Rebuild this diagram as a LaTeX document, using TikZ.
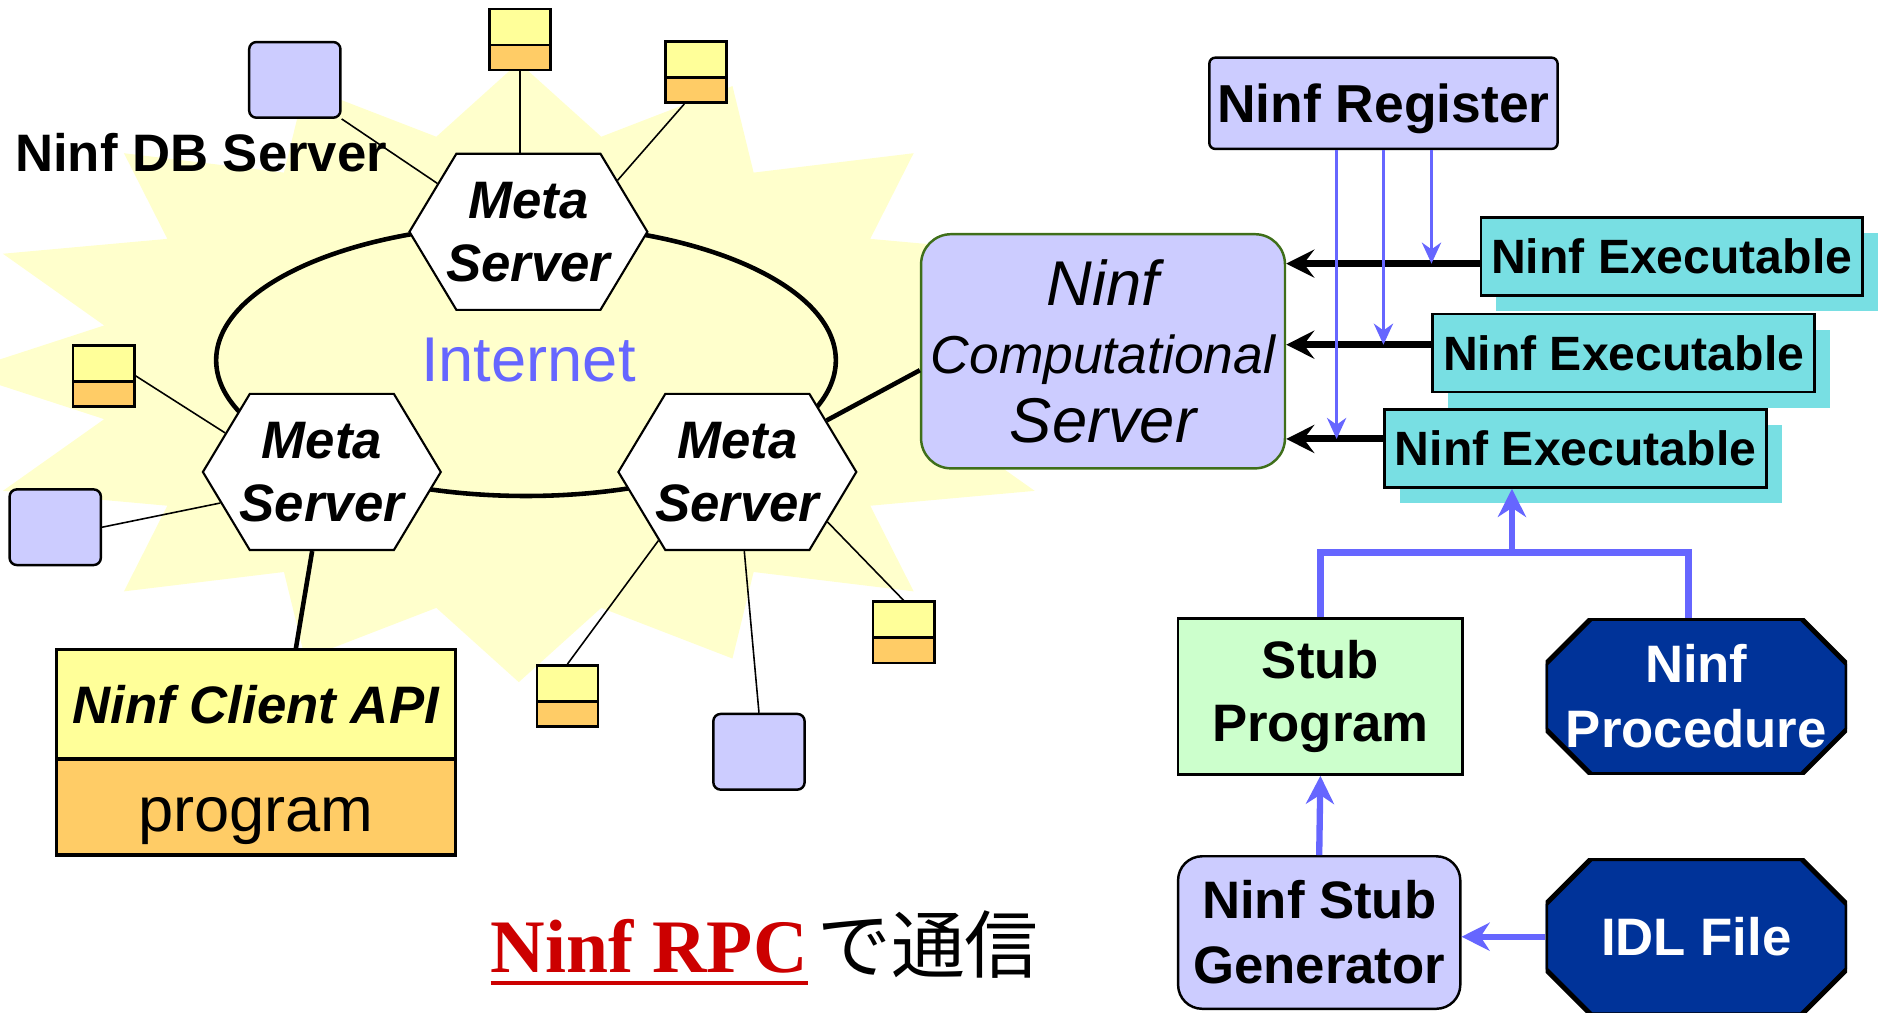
\documentclass[tikz,border=0pt]{standalone}
\usepackage{fontspec}
\setmainfont{Liberation Sans}
\newfontfamily\rpcfont{Liberation Serif}
\newfontfamily\jpfont{Noto Sans CJK JP}
\usetikzlibrary{arrows.meta,calc,shadows,shapes.symbols}

\newlength\dpx
\setlength\dpx{0.12009mm}
\newcommand\fsz[2]{\fontsize{#1}{#2}\selectfont}
\newcommand\metatext{\makebox[120\dpx]{Meta}\\\makebox[120\dpx]{Server}}

\definecolor{sunfill}{HTML}{FFFFCC}
\definecolor{dbblue}{HTML}{CCCCFF}
\definecolor{apiyellow}{HTML}{FFFF99}
\definecolor{prgorange}{HTML}{FFCC66}
\definecolor{execcyan}{HTML}{78DFE3}
\definecolor{stubgreen}{HTML}{CCFFCC}
\definecolor{procnavy}{HTML}{003399}
\definecolor{linkblue}{HTML}{6666FF}
\definecolor{compedge}{HTML}{3F6F1A}
\definecolor{rpcred}{HTML}{CC0000}

\tikzset{
    metahex/.style={signal,signal to=east and west,signal pointer angle=118,
        draw,fill=white,line width=0.6pt,inner sep=0pt,
        minimum height=130\dpx,align=center,font=\fsz{15}{18}\bfseries\itshape},
    dbbox/.style={draw,line width=0.7pt,fill=dbblue,rounded corners=6\dpx,
        minimum width=76\dpx,minimum height=63\dpx},
    stackbox/.style={draw,line width=0.7pt,fill=prgorange,inner sep=0pt,
        minimum width=51\dpx,minimum height=51\dpx,
        path picture={\fill[apiyellow] (path picture bounding box.north west)
            rectangle ([yshift=-30\dpx]path picture bounding box.north east);
            \draw[line width=0.7pt] ([yshift=-30\dpx]path picture bounding box.north west)
            -- ([yshift=-30\dpx]path picture bounding box.north east);}},
    wire/.style={line width=0.45pt},
    fatwire/.style={line width=1.3pt},
    netring/.style={line width=1.3pt},
    apibox/.style={draw,line width=0.9pt,fill=apiyellow,outer sep=0pt,
        minimum width=332\dpx,minimum height=91\dpx,
        font=\fsz{15}{18}\bfseries\itshape},
    prgbox/.style={draw,line width=0.9pt,fill=prgorange,outer sep=0pt,
        minimum width=332\dpx,minimum height=80\dpx,font=\fsz{18}{20},
        text height=13.7pt,text depth=0pt},
    compbox/.style={draw=compedge,line width=0.7pt,fill=dbblue,
        rounded corners=25\dpx,minimum width=303\dpx,minimum height=195\dpx,
        align=center,inner sep=0pt,font=\fsz{18}{19.5}\itshape},
    regbox/.style={draw,line width=0.7pt,fill=dbblue,rounded corners=5\dpx,
        inner xsep=2pt,minimum width=290\dpx,minimum height=76\dpx,
        text height=10.9pt,text depth=0pt,font=\fsz{15.2}{18}\bfseries},
    execbox/.style={draw,line width=0.7pt,fill=execcyan,inner xsep=1pt,
        minimum width=318\dpx,minimum height=65\dpx,font=\fsz{13.7}{16}\bfseries,
        general shadow={fill=execcyan,shadow xshift=13\dpx,shadow yshift=-13\dpx}},
    feed/.style={line width=2pt,-{Stealth[length=8pt,width=8pt,inset=3pt]}},
    regline/.style={draw=linkblue,line width=0.7pt,-{Stealth[length=6pt,width=5.5pt]}},
    fatblue/.style={draw=linkblue,line width=1.8pt},
    fattip/.style={-{Stealth[length=8pt,width=8pt]}},
    stubbox/.style={draw,line width=0.7pt,fill=stubgreen,
        minimum width=237\dpx,minimum height=130\dpx,
        align=center,font=\fsz{15}{18}\bfseries},
    octbox/.style={inner sep=0pt,text=white,minimum width=251\dpx,
        minimum height=130\dpx,align=center,font=\fsz{15}{18.5}\bfseries,
        path picture={\filldraw[fill=procnavy,draw=black,line width=1.4pt]
            ([xshift=38\dpx]path picture bounding box.north west)
            -- ([xshift=-38\dpx]path picture bounding box.north east)
            -- ([yshift=-38\dpx]path picture bounding box.north east)
            -- ([yshift=38\dpx]path picture bounding box.south east)
            -- ([xshift=-38\dpx]path picture bounding box.south east)
            -- ([xshift=38\dpx]path picture bounding box.south west)
            -- ([yshift=38\dpx]path picture bounding box.south west)
            -- ([yshift=-38\dpx]path picture bounding box.north west) -- cycle;}},
    genbox/.style={draw,line width=0.7pt,fill=dbblue,rounded corners=20\dpx,
        minimum width=235\dpx,minimum height=127\dpx,
        align=center,font=\fsz{15}{18.5}\bfseries}
}

\begin{document}
\begin{tikzpicture}[x=0.12009mm,y=-0.12009mm]
    \useasboundingbox (0,0) rectangle (1568,843);
    %% Internet cloud
    \begin{scope}
        \clip (0,0) rectangle (1568,843);
        \fill[sunfill] (897,310) \foreach \a in {0,22.5,...,337.5}
            { -- ({432+465*cos(\a)},{310+258*sin(\a)})
              -- ({432+352*cos(\a+11.25)},{310+200*sin(\a+11.25)}) } -- cycle;
    \end{scope}
    \draw[netring] (438,300) ellipse [x radius=258,y radius=113];
    \node[font=\fsz{18}{20},text=linkblue] (inet) at (440,300) {Internet};
    %% Meta servers
    \node[metahex] (ms1) at (440,193) {\metatext};
    \node[metahex] (ms2) at (268,393) {\metatext};
    \node[metahex] (ms3) at (614,393) {\metatext};
    %% DB servers and small hosts
    \node[dbbox] (db1) at (245.5,66.5) {};
    \node[dbbox] (db2) at (46,439) {};
    \node[dbbox] (db3) at (632,626) {};
    \node[stackbox] (sb1) at (433,33) {};
    \node[stackbox] (sb2) at (579.5,60) {};
    \node[stackbox] (sb3) at (86.5,313) {};
    \node[stackbox] (sb4) at (752.5,526.5) {};
    \node[stackbox] (sb5) at (472.5,579.5) {};
    \node[font=\fsz{15}{18}\bfseries,anchor=west,inner sep=0pt] (dblabel)
        at (12,127) {Ninf DB Server};
    \draw[wire] (db1.south east) -- (ms1.152);
    \draw[wire] (sb1.south) -- (sb1.south |- ms1.north);
    \draw[wire] (sb2.250) -- (ms1.30);
    \draw[wire] (sb3.east) -- (ms2.158);
    \draw[wire] (db2.east) -- (ms2.197);
    \draw[wire] (ms3.221) -- (sb5.north);
    \draw[wire] (ms3.275) -- (db3.north);
    \draw[wire] (ms3.331) -- (sb4.north);
    %% Client
    \node[apibox] (api) at (213,586.5) {Ninf Client API};
    \node[prgbox,anchor=north] (prg) at (api.south) {program};
    \draw[fatwire] (ms2.263) -- ($(api.north west)!0.6!(api.north east)$);
    %% Computational server
    \node[compbox] (comp) at (918.5,292.5)
        {Ninf\\{\fsz{15.2}{19.5}Computational}\\Server};
    \draw[fatwire] (ms3.30) -- ($(comp.south west)!0.42!(comp.north west)$);
    \node[regbox] (reg) at (1152,86) {Ninf Register};
    \node[execbox] (exec1) at (1392,213.5) {Ninf Executable};
    \node[execbox] (exec2) at (1352,294) {Ninf Executable};
    \node[execbox] (exec3) at (1312,373.5) {Ninf Executable};
    \coordinate (x1) at ($(exec1.west)+(0,6)$);
    \coordinate (x2) at ($(exec2.west)+(0,-7)$);
    \coordinate (x3) at ($(exec3.west)+(0,-8)$);
    \draw[feed] (x1) -- (x1 -| comp.east);
    \draw[feed] (x2) -- (x2 -| comp.east);
    \draw[feed] (x3) -- (x3 -| comp.east);
    \draw[regline] (1192,0 |- reg.south) -- (1192,0 |- x1);
    \draw[regline] (1152,0 |- reg.south) -- (1152,0 |- x2);
    \draw[regline] (1113,0 |- reg.south) -- (1113,0 |- x3);
    %% Stub generation
    \node[stubbox] (stubp) at (1099.5,580) {Stub\\Program};
    \node[octbox] (proc) at (1412.5,580) {Ninf\\Procedure};
    \node[genbox] (sgen) at (1098.5,776.5) {Ninf Stub\\Generator};
    \node[octbox] (idl) at (1412.5,780) {IDL File};
    \coordinate (jn) at (1259,460);
    \draw[fatblue] (stubp.north) |- (jn) -| (1406,0 |- proc.north);
    \draw[fatblue,fattip] (jn) -- (jn |- exec3.south);
    \draw[fatblue,fattip] (sgen.north) -- (stubp.south);
    \draw[fatblue,fattip] (idl.west) -- (idl.west -| sgen.east);
    %% Caption
    \node[font=\rpcfont\bfseries\fsz{21.5}{24},text=rpcred,anchor=base west,
        inner sep=0pt] (rpc) at (408,810)
        {\vtop{\hbox{Ninf RPC}\kern2pt\hrule height 1.4pt}};
    \node[font=\jpfont\fsz{21}{24},anchor=base west,inner sep=0pt] (jp)
        at (680,810) {で通信};
\end{tikzpicture}
\end{document}
